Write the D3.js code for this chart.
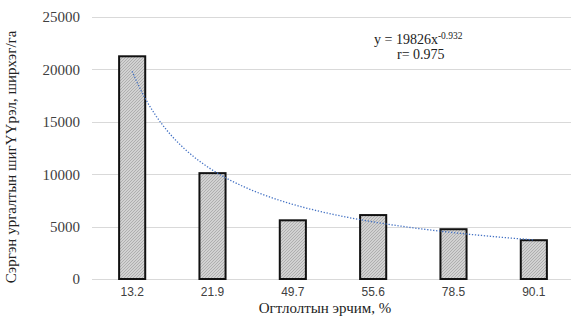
<!DOCTYPE html>
<html>
<head>
<meta charset="utf-8">
<script src="https://cdn.jsdelivr.net/npm/d3@7"></script>
<style>
  html, body { margin: 0; padding: 0; background: #fff; }
  svg { display: block; }
</style>
</head>
<body>
<script>
// Cutting intensity categories and regeneration density (pieces/ha)
const categories = ["13.2", "21.9", "49.7", "55.6", "78.5", "90.1"];
const density = [21250, 10100, 5600, 6100, 4750, 3700];
const yTicks = [0, 5000, 10000, 15000, 20000, 25000];

// Power trend fitted over category index: y = a * x^b
const trendA = 19826;
const trendB = -0.932;
const trendR = 0.975;

const SERIF = "'Liberation Serif'";
const SANS = "'Liberation Sans'";

const W = 571, H = 320;
const margin = { top: 17, right: -3, bottom: 41, left: 92 };

const svg = d3.select("body").append("svg")
  .attr("width", W).attr("height", H);

const defs = svg.append("defs");
const pat = defs.append("pattern")
  .attr("id", "hatch")
  .attr("patternUnits", "userSpaceOnUse")
  .attr("width", 3).attr("height", 3);
pat.append("rect").attr("width", 3).attr("height", 3).attr("fill", "#d2d2d2");
pat.append("path")
  .attr("d", "M-1,1 l2,-2 M0,3 l3,-3 M2,4 l2,-2")
  .attr("stroke", "#a6a6a6").attr("stroke-width", 0.8);

const x = d3.scaleBand()
  .domain(categories)
  .range([margin.left, W - margin.right])
  .paddingInner(0.675).paddingOuter(0.3375);

const y = d3.scaleLinear()
  .domain([0, 25000])
  .range([H - margin.bottom, margin.top]);

// Horizontal gridlines
svg.append("g")
  .selectAll("line")
  .data(yTicks)
  .join("line")
  .attr("x1", margin.left).attr("x2", W)
  .attr("y1", d => Math.round(y(d)) + 0.5).attr("y2", d => Math.round(y(d)) + 0.5)
  .attr("stroke", "#d9d9d9").attr("stroke-width", 1);

// Y axis labels
const yAxis = svg.append("g")
  .attr("transform", `translate(${margin.left - 12},0)`)
  .call(d3.axisLeft(y).tickValues(yTicks).tickFormat(d3.format("d")).tickSize(0).tickPadding(0));
yAxis.select(".domain").remove();
yAxis.selectAll("text")
  .style("font-family", SERIF)
  .style("font-size", "15px").attr("fill", "#404040");

// Bars
svg.append("g")
  .selectAll("rect")
  .data(density)
  .join("rect")
  .attr("x", (d, i) => x(categories[i]))
  .attr("y", d => y(d))
  .attr("width", x.bandwidth())
  .attr("height", d => y(0) - y(d))
  .attr("fill", "url(#hatch)")
  .attr("stroke", "#111").attr("stroke-width", 2);

// X axis labels
const xAxis = svg.append("g")
  .attr("transform", `translate(0,${y(0) + 8})`)
  .call(d3.axisBottom(x).tickSize(0).tickPadding(0));
xAxis.select(".domain").remove();
xAxis.selectAll("text")
  .style("font-family", SANS)
  .style("font-size", "12px").attr("fill", "#404040");

// Trendline sampled along the category index 1..n
const xi = d3.scaleLinear()
  .domain([1, categories.length])
  .range([x(categories[0]) + x.bandwidth() / 2,
          x(categories[categories.length - 1]) + x.bandwidth() / 2]);
const trendPts = d3.range(1, categories.length + 0.001, 0.05)
  .map(t => [xi(t), y(trendA * Math.pow(t, trendB))]);
svg.append("path")
  .attr("d", d3.line()(trendPts))
  .attr("fill", "none")
  .attr("stroke", "#4472c4").attr("stroke-width", 1.3)
  .attr("stroke-dasharray", "1.3,1.7");

// Equation label
const eq = svg.append("text")
  .attr("x", 374).attr("y", 44)
  .style("font-family", SERIF).style("font-size", "14px")
  .attr("fill", "#222");
eq.append("tspan").text(`y = ${trendA}x`);
eq.append("tspan").attr("dy", -5).style("font-size", "9.5px").text(trendB.toFixed(3));
svg.append("text")
  .attr("x", 397).attr("y", 59)
  .style("font-family", SERIF).style("font-size", "14px")
  .attr("fill", "#222")
  .text(`r= ${trendR}`);

// Axis titles
svg.append("text")
  .attr("transform", `translate(16,${157}) rotate(-90)`)
  .attr("text-anchor", "middle")
  .style("font-family", SERIF).style("font-size", "15px")
  .attr("fill", "#222")
  .text("Сэргэн ургалтын шигҮҮрэл, ширхэг/га");
svg.append("text")
  .attr("x", 325).attr("y", 313)
  .attr("text-anchor", "middle")
  .style("font-family", SERIF).style("font-size", "15px")
  .attr("fill", "#222")
  .text("Огтлолтын эрчим, %");
</script>
</body>
</html>
